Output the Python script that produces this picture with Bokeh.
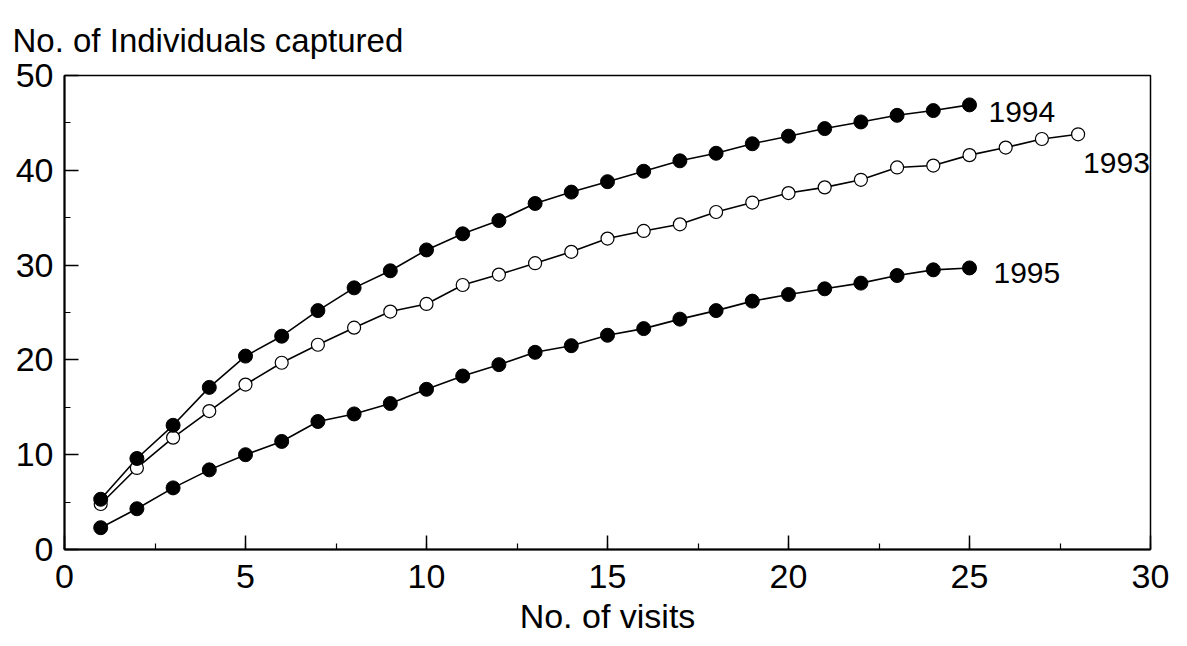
from bokeh.plotting import figure
from bokeh.models import Range1d, SingleIntervalTicker
from bokeh.core.properties import value
from bokeh.embed import file_html
from bokeh.resources import INLINE

# ---- data ----
visits_1993 = list(range(1, 29))
captured_1993 = [4.8, 8.6, 11.8, 14.6, 17.4, 19.7, 21.6, 23.4, 25.1, 25.9,
                 27.9, 29.0, 30.2, 31.4, 32.8, 33.6, 34.3, 35.6, 36.6, 37.6,
                 38.2, 39.0, 40.3, 40.5, 41.6, 42.4, 43.3, 43.8]

visits_1994 = list(range(1, 26))
captured_1994 = [5.3, 9.6, 13.1, 17.1, 20.4, 22.5, 25.2, 27.6, 29.4, 31.6,
                 33.3, 34.7, 36.5, 37.7, 38.8, 39.9, 41.0, 41.8, 42.8, 43.6,
                 44.4, 45.1, 45.8, 46.3, 46.9]

visits_1995 = list(range(1, 26))
captured_1995 = [2.3, 4.3, 6.5, 8.4, 10.0, 11.4, 13.5, 14.3, 15.4, 16.9,
                 18.3, 19.5, 20.8, 21.5, 22.6, 23.3, 24.3, 25.2, 26.2, 26.9,
                 27.5, 28.1, 28.9, 29.5, 29.7]

series_names = ["1993", "1994", "1995"]
y_title = "No. of Individuals captured"
x_title = "No. of visits"

FONT = "Liberation Sans"

p = figure(width=1187, height=646, output_backend="svg", toolbar_location=None,
           x_range=Range1d(0, 30), y_range=Range1d(0, 50),
           min_border_left=64, min_border_right=37, min_border_top=75,
           min_border_bottom=97)
p.background_fill_color = "white"
p.border_fill_color = "white"
p.grid.visible = False
p.outline_line_color = "black"
p.outline_line_width = 1.5

# y-axis title written horizontally above the plot
p.title.text = y_title
p.title.text_font = FONT
p.title.text_font_size = "33px"
p.title.text_font_style = "normal"
p.title.text_color = "black"
p.title.align = "left"
p.title.offset = -52
p.title.standoff = 34

p.xaxis.ticker = SingleIntervalTicker(interval=5, num_minor_ticks=2)
p.yaxis.ticker = SingleIntervalTicker(interval=10, num_minor_ticks=2)
for ax in (p.xaxis, p.yaxis):
    ax.major_tick_in = 14
    ax.major_tick_out = 0
    ax.minor_tick_in = 6
    ax.minor_tick_out = 0
    ax.axis_line_width = 2
    ax.axis_line_color = "black"
    ax.major_tick_line_color = "black"
    ax.minor_tick_line_color = "black"
    ax.major_tick_line_width = 1.5
    ax.minor_tick_line_width = 1.2
    ax.major_label_text_font = FONT
    ax.major_label_text_font_size = "34px"
    ax.major_label_text_color = "black"
p.xaxis.major_label_standoff = 15
p.yaxis.major_label_standoff = 11

p.xaxis.axis_label = x_title
p.xaxis.axis_label_text_font = FONT
p.xaxis.axis_label_text_font_size = "34px"
p.xaxis.axis_label_text_font_style = "normal"
p.xaxis.axis_label_text_color = "black"
p.xaxis.axis_label_standoff = 6

# series
p.line(visits_1994, captured_1994, line_color="black", line_width=1.6)
p.line(visits_1993, captured_1993, line_color="black", line_width=1.6)
p.line(visits_1995, captured_1995, line_color="black", line_width=1.6)

p.scatter(visits_1993, captured_1993, size=13, marker="circle",
          fill_color="white", line_color="black", line_width=1.2)
p.scatter(visits_1994, captured_1994, size=14, marker="circle",
          fill_color="black", line_color="black")
p.scatter(visits_1995, captured_1995, size=14, marker="circle",
          fill_color="black", line_color="black")

# series labels next to last points
p.text(x=[visits_1994[-1]], y=[captured_1994[-1]], text=[series_names[1]],
       x_offset=19, y_offset=7, text_baseline="middle", text_align="left",
       text_font=value(FONT), text_font_size="30px", text_color="black")
p.text(x=[visits_1993[-1]], y=[captured_1993[-1]], text=[series_names[0]],
       x_offset=5, y_offset=29, text_baseline="middle", text_align="left",
       text_font=value(FONT), text_font_size="30px", text_color="black")
p.text(x=[visits_1995[-1]], y=[captured_1995[-1]], text=[series_names[2]],
       x_offset=24, y_offset=5, text_baseline="middle", text_align="left",
       text_font=value(FONT), text_font_size="30px", text_color="black")

open("out.html", "w").write(file_html(p, INLINE))
